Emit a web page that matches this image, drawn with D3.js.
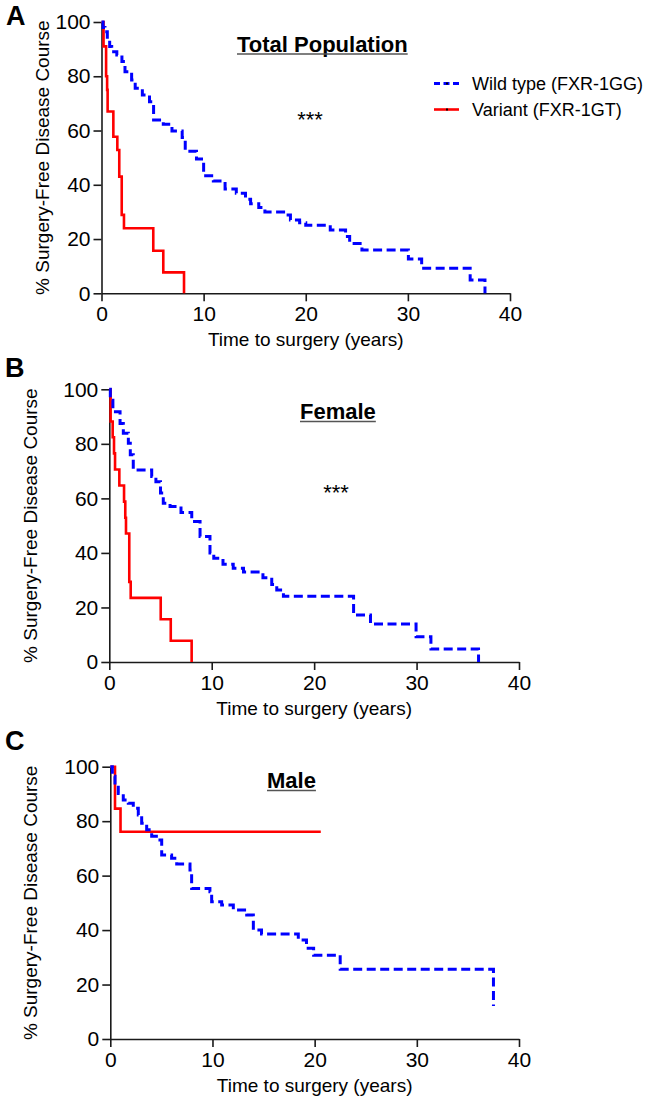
<!DOCTYPE html>
<html>
<head>
<meta charset="utf-8">
<script src="https://cdn.jsdelivr.net/npm/d3@7"></script>
<style>
  html, body { margin: 0; padding: 0; background: #fff; }
  svg { display: block; }
  text { font-family: "Liberation Sans", Arial, sans-serif; fill: #000; }
</style>
</head>
<body>
<svg id="chart" width="645" height="1099"></svg>
<script>
// ---------------- data ----------------
const xTicks = [0, 10, 20, 30, 40];
const yTicks = [0, 20, 40, 60, 80, 100];
const seriesNames = ["Wild type (FXR-1GG)", "Variant (FXR-1GT)"];
const panelLetters = ["A", "B", "C"];
const panelTitles = ["Total Population", "Female", "Male"];
const panelSig = ["***", "***", ""];
const xLabel = "Time to surgery (years)";
const yLabel = "% Surgery-Free Disease Course";

// [time (years), % surgery-free] — survival drops to the value at that time
const totalWild = [
  [0, 100], [0.15, 98], [0.34, 96.4], [0.57, 93.4], [0.8, 91], [1.0, 89], [1.5, 87.8],
  [2.0, 85.4], [2.3, 81.7], [2.95, 78.6], [3.3, 75.6], [4.0, 73.1], [4.7, 70.6],
  [5.1, 63.9], [6.05, 62.3], [6.9, 59.8], [7.9, 57.4], [8.2, 52.4], [9.3, 49.5],
  [10.0, 43.3], [10.95, 41.4], [12.1, 38.4], [13.2, 36.9], [14.1, 34.7], [14.6, 33],
  [15.4, 31.6], [16.0, 30], [18.0, 28.9], [18.5, 27], [19.4, 26], [20.0, 25.1],
  [22.4, 23.3], [23.9, 20.9], [24.3, 18.4], [25.5, 16], [30.05, 12.6], [31.35, 9.2],
  [36.1, 4.9], [37.55, 0]
];
const totalVariant = [
  [0, 100], [0.2, 91], [0.45, 80], [0.55, 75], [0.6, 67], [1.16, 57.7], [1.55, 52.8],
  [1.74, 43], [1.98, 28.9], [2.2, 24], [5.07, 15.7], [6.05, 7.7], [8.08, 0]
];
const femaleWild = [
  [0, 100], [0.1, 96], [0.35, 91.8], [1.05, 87.5], [1.37, 83.9], [1.86, 80.2],
  [2.05, 76], [2.34, 70.4], [4.14, 68], [4.55, 66.1], [5.0, 62], [5.27, 58.2],
  [5.93, 57], [7.0, 54.8], [8.05, 51.5], [8.86, 46], [9.83, 40], [10.2, 38],
  [11.1, 35.8], [12.1, 34.4], [13.1, 33], [15.0, 30.9], [15.86, 28.4], [16.35, 26.4],
  [17.0, 24.1], [23.85, 17.2], [25.5, 13.9], [29.95, 9.3], [31.4, 4.8], [36.05, 0]
];
const femaleVariant = [
  [0, 100], [0.13, 88.2], [0.33, 82.4], [0.46, 76.5], [0.56, 70.6], [0.98, 64.7],
  [1.44, 58.8], [1.56, 52.9], [1.63, 47.1], [1.95, 29.4], [2.09, 23.5], [5.02, 15.7],
  [6.0, 7.8], [8.04, 0]
];
const maleWild = [
  [0, 100], [0.2, 96.5], [0.46, 93.3], [0.78, 90.2], [1.27, 87.8], [1.76, 86.6],
  [2.25, 84.7], [2.74, 82.3], [3.07, 79.2], [3.56, 76.8], [4.05, 74.5], [4.86, 73.1],
  [5.03, 67.6], [6.0, 66.4], [6.5, 64.3], [7.8, 62.1], [7.96, 55.3], [9.75, 54.1],
  [9.92, 50.4], [10.9, 49.2], [12.04, 47.4], [13.35, 45.5], [14.0, 40], [14.8, 38.6],
  [18.4, 36.4], [19.2, 33.3], [19.9, 30.8], [22.5, 25.6], [37.5, 12.1]
];
const maleVariant = [
  [0, 100], [0.46, 84.6], [1.0, 76.1], [20.6, 76.1]
];

const wildSeries = [totalWild, femaleWild, maleWild];
const variantSeries = [totalVariant, femaleVariant, maleVariant];

// ---------------- layout ----------------
const layout = [
  { x0: 101.5, x1: 510, yBot: 293.3, yTop: 22,
    letter: [6, 25], title: [237, 51.5], sig: [310, 127], yTitleX: 49, legend: true },
  { x0: 109.3, x1: 519, yBot: 662, yTop: 389.3,
    letter: [5, 377], title: [300, 419], sig: [336, 500], yTitleX: 36.5, legend: false },
  { x0: 110.3, x1: 519, yBot: 1039, yTop: 766.7,
    letter: [5, 750], title: [267, 788], sig: [0, 0], yTitleX: 37, legend: false }
];

const WILD_COLOR = "#0000ff";
const VAR_COLOR = "#ff0000";
const svg = d3.select("#chart");
svg.append("rect").attr("width", 645).attr("height", 1099).attr("fill", "#fff");

layout.forEach((L, i) => {
  const g = svg.append("g");
  const x = d3.scaleLinear().domain([0, 40]).range([L.x0, L.x1]);
  const y = d3.scaleLinear().domain([0, 100]).range([L.yBot, L.yTop]);

  // axes
  const xAxis = d3.axisBottom(x).tickValues(xTicks).tickSize(8).tickPadding(5).tickSizeOuter(0);
  const yAxis = d3.axisLeft(y).tickValues(yTicks).tickSize(8).tickPadding(3).tickSizeOuter(0);
  const gx = g.append("g").attr("transform", `translate(0,${L.yBot})`).call(xAxis);
  const gy = g.append("g").attr("transform", `translate(${L.x0},0)`).call(yAxis);
  [gx, gy].forEach(a => {
    a.select(".domain").attr("stroke", "#1a1a1a").attr("stroke-width", 1.6);
    a.selectAll(".tick line").attr("stroke", "#1a1a1a").attr("stroke-width", 1.6);
    a.selectAll(".tick text").attr("font-size", 21).attr("font-family", "Liberation Sans, Arial, sans-serif").attr("fill", "#111");
  });

  // axis titles
  g.append("text").attr("x", (L.x0 + L.x1) / 2).attr("y", L.yBot + 53)
    .attr("text-anchor", "middle").attr("font-size", 19).attr("fill", "#111").text(xLabel);
  g.append("text")
    .attr("transform", `translate(${L.yTitleX},${(L.yBot + L.yTop) / 2}) rotate(-90)`)
    .attr("text-anchor", "middle").attr("font-size", 19).attr("fill", "#111").text(yLabel);

  // curves
  const line = d3.line().x(d => x(d[0])).y(d => y(d[1])).curve(d3.curveStepAfter);
  g.append("path").datum(variantSeries[i]).attr("d", line)
    .attr("fill", "none").attr("stroke", VAR_COLOR).attr("stroke-width", 2.6);
  g.append("path").datum(wildSeries[i]).attr("d", line)
    .attr("fill", "none").attr("stroke", WILD_COLOR).attr("stroke-width", 3)
    .attr("stroke-dasharray", "9,4.5");

  // panel letter
  g.append("text").attr("x", L.letter[0]).attr("y", L.letter[1])
    .attr("font-size", 27).attr("font-weight", "bold").text(panelLetters[i]);

  // title with underline
  const t = g.append("text").attr("x", L.title[0]).attr("y", L.title[1])
    .attr("font-size", 22).attr("font-weight", "bold").text(panelTitles[i]);
  const w = t.node().getComputedTextLength();
  g.append("line").attr("x1", L.title[0]).attr("x2", L.title[0] + w)
    .attr("y1", L.title[1] + 2.5).attr("y2", L.title[1] + 2.5)
    .attr("stroke", "#555").attr("stroke-width", 1.6);

  if (panelSig[i]) {
    g.append("text").attr("x", L.sig[0]).attr("y", L.sig[1]).attr("text-anchor", "middle")
      .attr("font-size", 22).text(panelSig[i]);
  }

  if (L.legend) {
    const lg = g.append("g");
    const items = [
      { name: seriesNames[0], color: WILD_COLOR, dash: "6,3.5", width: 3 },
      { name: seriesNames[1], color: VAR_COLOR, dash: null, width: 2.6 }
    ];
    items.forEach((it, k) => {
      const yy = 83.5 + k * 26;
      lg.append("line").attr("x1", 434).attr("x2", 459).attr("y1", yy).attr("y2", yy)
        .attr("stroke", it.color).attr("stroke-width", it.width)
        .attr("stroke-dasharray", it.dash);
      lg.append("rect").attr("x", 446).attr("y", yy - 1).attr("width", 2).attr("height", 2).attr("fill", "#000");
      lg.append("text").attr("x", 472).attr("y", yy + 6.3).attr("font-size", 18).attr("fill", "#111").text(it.name);
    });
  }
});
</script>
</body>
</html>
